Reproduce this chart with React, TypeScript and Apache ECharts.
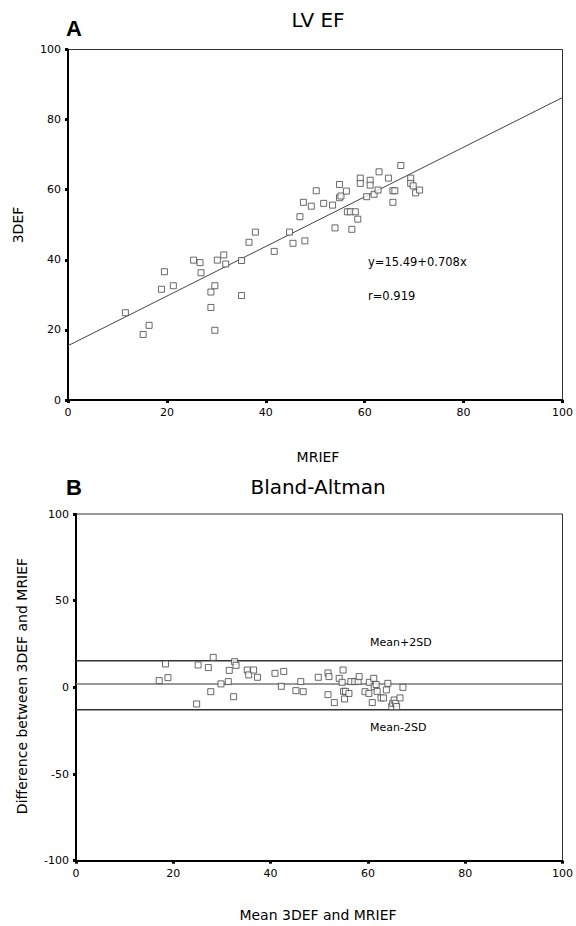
import React, { useEffect, useRef } from "react";
import * as echarts from "echarts";

// Panel A: LV EF, MRI vs 3D echo
const efMRI = [
  11.6, 15.2, 16.4, 18.9, 19.5, 21.3, 25.4, 26.7, 26.9, 28.9, 29.7, 28.9, 29.7, 30.2, 31.5,
  31.9, 35.1, 35.1, 36.6, 37.9, 41.7, 44.8, 45.5, 46.9, 47.9, 47.6, 49.2, 50.2, 51.7, 53.5,
  54.0, 54.9, 54.9, 55.2, 56.3, 56.5, 57.1, 58.1, 57.4, 58.6, 59.1, 59.1, 60.4, 61.1, 61.1,
  61.9, 62.9, 62.7, 64.8, 65.7, 66.1, 65.7, 67.3, 69.3, 69.3, 69.8, 70.3, 71.1,
];
const ef3D = [
  24.9, 18.7, 21.3, 31.6, 36.6, 32.6, 39.9, 39.2, 36.3, 30.8, 32.6, 26.4, 19.9, 39.9, 41.4,
  38.8, 39.8, 29.8, 45.0, 47.9, 42.4, 47.9, 44.7, 52.3, 45.4, 56.4, 55.3, 59.7, 56.1, 55.6,
  49.1, 61.5, 57.7, 58.2, 59.6, 53.7, 53.7, 53.7, 48.7, 51.6, 63.3, 61.8, 58.0, 62.7, 61.3,
  58.7, 65.1, 59.9, 63.3, 59.7, 59.7, 56.4, 66.9, 63.3, 61.8, 61.1, 59.1, 59.9,
];
const fitIntercept = 15.49;
const fitSlope = 0.708;
const fitRange = [0, 100];

// Panel B: Bland-Altman
const baMean = [
  17.1, 18.4, 18.9, 24.8, 25.1, 27.2, 27.7, 28.2, 29.8, 31.3, 31.5, 32.4, 32.6, 32.9, 35.2,
  35.5, 36.5, 37.3, 40.9, 42.2, 42.7, 45.2, 46.2, 46.7, 49.8, 51.8, 52.0, 51.8, 53.1, 54.1,
  54.7, 54.9, 55.0, 55.4, 55.2, 56.1, 56.5, 57.3, 58.0, 58.2, 59.4, 60.2, 60.3, 60.9, 61.2,
  61.3, 61.7, 61.9, 62.7, 63.2, 63.8, 64.1, 64.9, 65.1, 65.4, 65.7, 65.9, 66.6, 67.2,
];
const baDiff = [
  3.9, 13.5, 5.6, -9.6, 12.9, 11.4, -2.5, 17.3, 2.0, 3.3, 9.8, -5.4, 14.8, 12.7, 10.0,
  7.2, 10.0, 5.8, 8.1, 0.6, 9.2, -1.9, 3.3, -2.5, 5.8, 8.3, 6.2, -4.2, -8.8, 5.2,
  2.9, 10.0, -2.3, -2.3, -6.7, -3.5, 3.3, 3.3, 3.5, 6.2, -2.5, -3.5, 2.9, -8.8, 5.2,
  0.4, 1.6, -2.3, -6.1, -6.1, -1.5, 2.3, -11.1, -9.2, -7.3, -9.2, -11.1, -6.1, 0.0,
];
const limitUpper = 15.4;
const limitMean = 1.9;
const limitLower = -12.9;

const FONT = "DejaVu Sans";

export default function App() {
  const ref = useRef<HTMLDivElement>(null);
  useEffect(() => {
    if (!ref.current) return;
    const chart = echarts.init(ref.current, null, { renderer: "svg" });

    const axisCommon = (min: number, max: number, interval: number) => ({
      type: "value" as const,
      min,
      max,
      interval,
      splitLine: { show: false },
      axisLine: { show: true, onZero: false, lineStyle: { color: "#000", width: 2 } },
      axisTick: { show: true, length: 3, lineStyle: { color: "#000", width: 3 } },
      axisLabel: { color: "#000", fontFamily: FONT, fontSize: 11, margin: 7 },
    });

    const pointStyle = { color: "#fff", borderColor: "#444", borderWidth: 1 };

    const textStyle = (text: string, size: number, extra: any = {}) => ({
      text,
      fontFamily: FONT,
      fontSize: size,
      fill: "#000",
      ...extra,
    });

    chart.setOption({
      animation: false,
      backgroundColor: "#fff",
      grid: [
        { left: 68, right: 8.5, top: 49.5, height: 350.5, show: true, borderColor: "#333", borderWidth: 1 },
        { left: 76, right: 11, top: 514, height: 346.7, show: true, borderColor: "#333", borderWidth: 1 },
      ],
      xAxis: [
        { gridIndex: 0, ...axisCommon(0, 100, 20) },
        { gridIndex: 1, ...axisCommon(0, 100, 20) },
      ],
      yAxis: [
        { gridIndex: 0, ...axisCommon(0, 100, 20) },
        { gridIndex: 1, ...axisCommon(-100, 100, 50) },
      ],
      series: [
        {
          type: "line",
          xAxisIndex: 0,
          yAxisIndex: 0,
          data: fitRange.map((x) => [x, fitIntercept + fitSlope * x]),
          showSymbol: false,
          lineStyle: { color: "#444", width: 1 },
          z: 2,
        },
        {
          type: "scatter",
          xAxisIndex: 0,
          yAxisIndex: 0,
          symbol: "rect",
          symbolSize: 6,
          itemStyle: pointStyle,
          data: efMRI.map((x, i) => [x, ef3D[i]]),
          z: 3,
        },
        ...[
          { v: limitUpper, c: "#333" },
          { v: limitMean, c: "#777" },
          { v: limitLower, c: "#333" },
        ].map((l) => ({
          type: "line",
          xAxisIndex: 1,
          yAxisIndex: 1,
          data: [
            [0, l.v],
            [100, l.v],
          ],
          showSymbol: false,
          lineStyle: { color: l.c, width: 1.5 },
          z: 2,
        })),
        {
          type: "scatter",
          xAxisIndex: 1,
          yAxisIndex: 1,
          symbol: "rect",
          symbolSize: 6,
          itemStyle: pointStyle,
          data: baMean.map((x, i) => [x, baDiff[i]]),
          z: 3,
        },
      ],
      graphic: [
        { type: "text", left: 66, top: 17, style: textStyle("A", 22, { fontFamily: "Liberation Sans", fontWeight: "bold" }) },
        { type: "text", x: 318, y: 20, style: textStyle("LV EF", 20, { align: "center", verticalAlign: "middle" }) },
        { type: "text", x: 18, y: 225, rotation: Math.PI / 2, style: textStyle("3DEF", 14, { align: "center", verticalAlign: "middle" }) },
        { type: "text", x: 318, y: 457, style: textStyle("MRIEF", 14, { align: "center", verticalAlign: "middle" }) },
        { type: "text", x: 368, y: 262, style: textStyle("y=15.49+0.708x", 11.5, { verticalAlign: "middle" }) },
        { type: "text", x: 368, y: 296, style: textStyle("r=0.919", 11.5, { verticalAlign: "middle" }) },
        { type: "text", left: 66, top: 476, style: textStyle("B", 22, { fontFamily: "Liberation Sans", fontWeight: "bold" }) },
        { type: "text", x: 318, y: 487, style: textStyle("Bland-Altman", 20, { align: "center", verticalAlign: "middle" }) },
        { type: "text", x: 22, y: 686, rotation: Math.PI / 2, style: textStyle("Difference between 3DEF and MRIEF", 14, { align: "center", verticalAlign: "middle" }) },
        { type: "text", x: 370, y: 642, style: textStyle("Mean+2SD", 11, { verticalAlign: "middle" }) },
        { type: "text", x: 370, y: 727, style: textStyle("Mean-2SD", 11, { verticalAlign: "middle" }) },
        { type: "text", x: 318, y: 915, style: textStyle("Mean 3DEF and MRIEF", 14, { align: "center", verticalAlign: "middle" }) },
      ],
    });
    return () => chart.dispose();
  }, []);
  return (
    <div
      ref={ref}
      style={{ position: "absolute", left: 0, top: 0, width: 576, height: 926, background: "#fff" }}
    />
  );
}
